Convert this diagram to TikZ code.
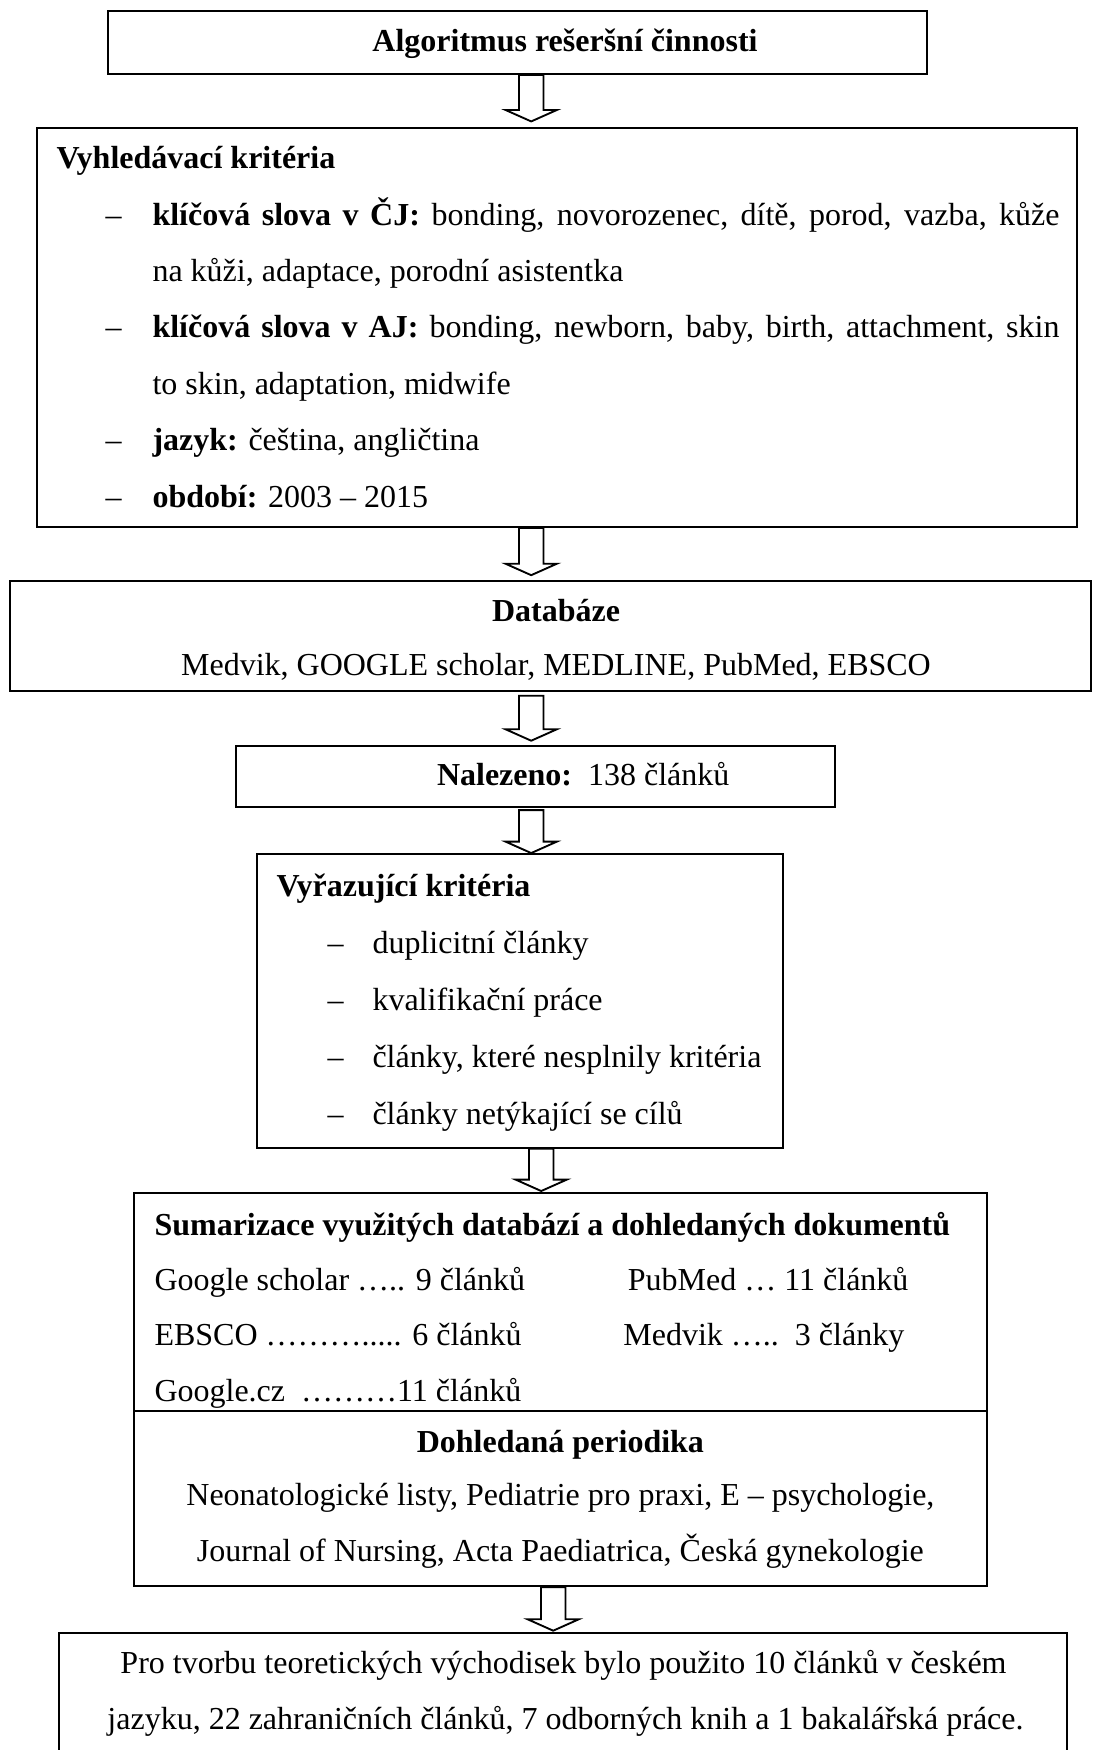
\documentclass[tikz,border=0pt]{standalone}
\usepackage{fontspec}
\setmainfont{Liberation Serif}
\usepackage{tikz}
\usetikzlibrary{calc,positioning}
\newlength\pix
\setlength\pix{0.375pt}
\tikzstyle{box}=[draw, rectangle, line width=0.75pt, inner sep=0pt]
\tikzstyle{txt}=[inner sep=0pt, anchor=base west]
\tikzstyle{ctxt}=[inner sep=0pt, anchor=base]
\tikzstyle{hollow}=[draw, line width=0.7pt, to path={let \p1=(\tikztostart), \p2=(\tikztotarget) in
  (\x1-4.6pt,\y1) -- (\x1-4.6pt,\y2+4.3pt) -- (\x1-9.65pt,\y2+4.3pt) -- (\x2,\y2)
  -- (\x1+9.65pt,\y2+4.3pt) -- (\x1+4.6pt,\y2+4.3pt) -- (\x1+4.6pt,\y1) -- cycle}]

\begin{document}
\begin{tikzpicture}[x=\pix, y=-\pix, font=\fontsize{12}{14}\selectfont]
  \useasboundingbox (0,0) rectangle (1094,1750);
  \clip (0,0) rectangle (1094,1750);

  % boxes
  \node[box, minimum width=819\pix, minimum height=63\pix] (title) at (517.5,42.5) {};
  \node[box, minimum width=1040\pix, minimum height=399.3\pix] (search) at (557,327.4) {};
  \node[box, minimum width=1081\pix, minimum height=110\pix] (db) at (550.5,635.7) {};
  \node[box, minimum width=599.5\pix, minimum height=61\pix] (found) at (535.3,776.2) {};
  \node[box, minimum width=525.8\pix, minimum height=293.7\pix] (excl) at (519.6,1000.9) {};
  \node[box, minimum width=852.7\pix, minimum height=392.7\pix] (summary) at (560.4,1389.7) {};
  \node[box, minimum width=1007.7\pix, minimum height=160\pix] (result) at (562.9,1713) {};
  \coordinate (split) at (0,1411);
  \draw[line width=0.75pt] (summary.west |- split) -- (summary.east |- split);

  % texts
  \node[ctxt] (titletext) at (565,51) {\textbf{Algoritmus rešeršní činnosti}};

  \node[txt] (searchhead) at (56,168) {\textbf{Vyhledávací kritéria}};
  \node[txt] (d1) at (105,225) {–};
  \node[txt] (cj1) at (152,225) {\makebox[907\pix][s]{\textbf{klíčová slova v ČJ:} bonding, novorozenec, dítě, porod, vazba, kůže}};
  \node[txt] (cj2) at (152,281.4) {na kůži, adaptace, porodní asistentka};
  \node[txt] (d2) at (105,337.8) {–};
  \node[txt] (aj1) at (152,337.8) {\makebox[907\pix][s]{\textbf{klíčová slova v AJ:} bonding, newborn, baby, birth, attachment, skin}};
  \node[txt] (aj2) at (152,394.2) {to skin, adaptation, midwife};
  \node[txt] (d3) at (105,450.6) {–};
  \node[txt] (lang) at (152,450.6) {\textbf{jazyk:} čeština, angličtina};
  \node[txt] (d4) at (105,507) {–};
  \node[txt] (period) at (152,507) {\textbf{období:} 2003 – 2015};

  \node[ctxt] (dbhead) at (556,621.5) {\textbf{Databáze}};
  \node[ctxt] (dblist) at (556,675) {Medvik, GOOGLE scholar, MEDLINE, PubMed, EBSCO};

  \node[txt] (foundtext) at (436.5,785.5) {\textbf{Nalezeno:}\ \ 138 článků};

  \node[txt] (exclhead) at (276,896) {\textbf{Vyřazující kritéria}};
  \foreach \y/\t [count=\i] in {953/duplicitní články, 1010/kvalifikační práce,
      1067/{články, které nesplnily kritéria}, 1124/články netýkající se cílů} {
    \node[txt] (ed\i) at (327,\y) {–};
    \node[txt] (ex\i) at (372,\y) {\t};
  }

  \node[txt] (sumhead) at (154,1235.5) {\textbf{Sumarizace využitých databází a dohledaných dokumentů}};
  \node[txt] (gs) at (154,1290) {Google scholar ….. 9 článků};
  \node[txt] (pm) at (627.4,1290) {PubMed … 11 článků};
  \node[txt] (eb) at (154,1345) {EBSCO ………..... 6 článků};
  \node[txt] (mv) at (622.9,1345) {Medvik …..\ \ 3 články};
  \node[txt] (gc) at (154,1401) {Google.cz\ \ ………11 článků};
  \node[ctxt] (perhead) at (560.4,1452) {\textbf{Dohledaná periodika}};
  \node[ctxt] (per1) at (560.4,1505.5) {Neonatologické listy, Pediatrie pro praxi, E – psychologie,};
  \node[ctxt] (per2) at (560.4,1561.5) {Journal of Nursing, Acta Paediatrica, Česká gynekologie};

  \node[ctxt] (res1) at (563.5,1673) {Pro tvorbu teoretických východisek bylo použito 10 článků v českém};
  \node[ctxt] (res2) at (565.5,1729) {jazyku, 22 zahraničních článků, 7 odborných knih a 1 bakalářská práce.};

  % arrows
  \coordinate (axis) at (531.2,0);
  \coordinate (axisb) at (541.2,0);
  \coordinate (axisc) at (553.2,0);
  \draw[hollow] (title.south -| axis) to ([yshift=2pt]search.north -| axis);
  \draw[hollow] (search.south -| axis) to ([yshift=1.7pt]db.north -| axis);
  \draw[hollow] ([yshift=-1.5pt]db.south -| axis) to ([yshift=1.5pt]found.north -| axis);
  \draw[hollow] ([yshift=-0.9pt]found.south -| axis) to (excl.north -| axis);
  \draw[hollow] (excl.south -| axisb) to ([yshift=0.5pt]summary.north -| axisb);
  \draw[hollow] (summary.south -| axisc) to ([yshift=0.5pt]result.north -| axisc);
\end{tikzpicture}
\end{document}
